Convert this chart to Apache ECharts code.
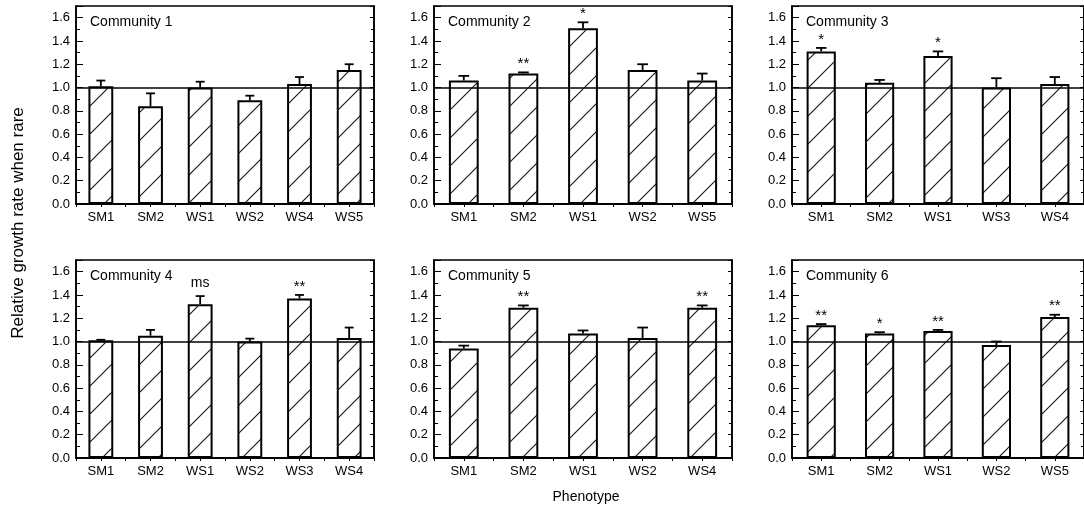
<!DOCTYPE html>
<html>
<head>
<meta charset="utf-8">
<title>Relative growth rate when rare</title>
<script src="https://cdn.jsdelivr.net/npm/echarts@6/dist/echarts.min.js"></script>
<style>
html, body { margin: 0; padding: 0; background: #fff; }
#main { width: 1084px; height: 507px; }
</style>
</head>
<body>
<div id="main"></div>
<script>
// values (mean, upper error, significance mark)
const cats1 = ['SM1', 'SM2', 'WS1', 'WS2', 'WS4', 'WS5']
const mean1 = [1.01, 0.84, 1.00, 0.89, 1.03, 1.15]
const err1 = [0.05, 0.11, 0.05, 0.04, 0.06, 0.05]
const sig1 = ['', '', '', '', '', '']

const cats2 = ['SM1', 'SM2', 'WS1', 'WS2', 'WS5']
const mean2 = [1.06, 1.12, 1.51, 1.15, 1.06]
const err2 = [0.04, 0.01, 0.05, 0.05, 0.06]
const sig2 = ['', '**', '*', '', '']

const cats3 = ['SM1', 'SM2', 'WS1', 'WS3', 'WS4']
const mean3 = [1.31, 1.04, 1.27, 1.00, 1.03]
const err3 = [0.03, 0.025, 0.04, 0.08, 0.06]
const sig3 = ['*', '', '*', '', '']

const cats4 = ['SM1', 'SM2', 'WS1', 'WS2', 'WS3', 'WS4']
const mean4 = [1.01, 1.05, 1.32, 1.00, 1.37, 1.03]
const err4 = [0.005, 0.05, 0.07, 0.025, 0.03, 0.09]
const sig4 = ['', '', 'ms', '', '**', '']

const cats5 = ['SM1', 'SM2', 'WS1', 'WS2', 'WS4']
const mean5 = [0.94, 1.29, 1.07, 1.03, 1.29]
const err5 = [0.025, 0.02, 0.025, 0.09, 0.02]
const sig5 = ['', '**', '', '', '**']

const cats6 = ['SM1', 'SM2', 'WS1', 'WS2', 'WS5']
const mean6 = [1.14, 1.07, 1.09, 0.97, 1.21]
const err6 = [0.01, 0.01, 0.01, 0.03, 0.02]
const sig6 = ['**', '*', '**', '', '**']

const yTicks = [0, 0.2, 0.4, 0.6, 0.8, 1.0, 1.2, 1.4, 1.6]

const panels = [
  { name: 'Community 1', cats: cats1, mean: mean1, err: err1, sig: sig1 },
  { name: 'Community 2', cats: cats2, mean: mean2, err: err2, sig: sig2 },
  { name: 'Community 3', cats: cats3, mean: mean3, err: err3, sig: sig3 },
  { name: 'Community 4', cats: cats4, mean: mean4, err: err4, sig: sig4 },
  { name: 'Community 5', cats: cats5, mean: mean5, err: err5, sig: sig5 },
  { name: 'Community 6', cats: cats6, mean: mean6, err: err6, sig: sig6 },
]

const FONT = '"Liberation Sans", Arial, sans-serif'
const lefts = [76, 434, 792]
const tops = [6, 260]
const W = 298
const H = 198

// diagonal hatch tile
function hatchTile() {
  const s = 28
  const c = document.createElement('canvas')
  c.width = s
  c.height = s
  const g = c.getContext('2d')
  g.fillStyle = '#fff'
  g.fillRect(0, 0, s, s)
  g.strokeStyle = '#111'
  g.lineWidth = 1.1
  for (let k = -1; k <= 1; k++) {
    g.beginPath()
    g.moveTo(-2 + k * s, s + 2)
    g.lineTo(s + 2 + k * s, -2)
    g.stroke()
  }
  return c
}
const hatch = hatchTile()

const chart = echarts.init(document.getElementById('main'), null, { renderer: 'canvas' })

let grid = []
let xAxis = []
let yAxis = []
let series = []
let graphic = []

panels.forEach((p, i) => {
  const left = lefts[i % 3]
  const top = tops[Math.floor(i / 3)]
  grid.push({
    left: left, top: top, width: W, height: H,
    show: true, borderColor: '#000', borderWidth: 1.6, backgroundColor: 'transparent',
  })
  // bottom category axis
  xAxis.push({
    type: 'category', gridIndex: i, data: p.cats, position: 'bottom',
    axisLine: { show: true, lineStyle: { color: '#000', width: 1.6 } },
    axisTick: { show: false },
    axisLabel: { color: '#000', fontSize: 13, fontFamily: FONT, margin: 7, interval: 0 },
    splitLine: { show: false },
  })
  // top axis, just ticks at every half category
  xAxis.push({
    type: 'value', gridIndex: i, position: 'top', min: 0, max: p.cats.length, interval: 0.5,
    axisLine: { show: true, lineStyle: { color: '#000', width: 1.6 } },
    axisTick: { show: true, inside: true, length: 3, lineStyle: { color: '#000', width: 1 } },
    axisLabel: { show: false },
    splitLine: { show: false },
  })
  yAxis.push({
    type: 'value', gridIndex: i, min: 0, max: 1.7, interval: 0.2,
    axisLine: { show: true, lineStyle: { color: '#000', width: 1.6 } },
    axisTick: { show: true, inside: true, length: 7, lineStyle: { color: '#000', width: 1 } },
    minorTick: { show: true, splitNumber: 2, length: 4, lineStyle: { color: '#000', width: 1 } },
    axisLabel: {
      color: '#000', fontSize: 13, fontFamily: FONT, margin: 6, showMaxLabel: false,
      formatter: (v) => yTicks.some((t) => Math.abs(t - v) < 1e-6) ? v.toFixed(1) : '',
    },
    splitLine: { show: false },
  })
  yAxis.push({
    type: 'value', gridIndex: i, position: 'right', min: 0, max: 1.7, interval: 0.2,
    axisLine: { show: true, lineStyle: { color: '#000', width: 1.6 } },
    axisTick: { show: true, inside: true, length: 4, lineStyle: { color: '#000', width: 1 } },
    minorTick: { show: true, splitNumber: 2, length: 3, lineStyle: { color: '#000', width: 1 } },
    axisLabel: { show: false },
    splitLine: { show: false },
  })

  series.push({
    type: 'bar',
    xAxisIndex: 2 * i, yAxisIndex: 2 * i,
    data: p.mean,
    barWidth: '50%',
    z: 2,
    itemStyle: {
      color: { image: hatch, repeat: 'repeat' },
      borderColor: '#000', borderWidth: 2,
    },
    emphasis: { disabled: true },
  })

  const sig = p.sig
  series.push({
    type: 'custom',
    xAxisIndex: 2 * i, yAxisIndex: 2 * i,
    z: 4,
    data: p.mean.map((m, j) => [j, m, m + p.err[j]]),
    renderItem: (params, api) => {
      const base = api.coord([api.value(0), api.value(1)])
      const tip = api.coord([api.value(0), api.value(2)])
      const cw = api.size([1, 0])[0]
      const half = cw * 0.09
      const s = sig[params.dataIndex]
      const children = [
        { type: 'line', shape: { x1: base[0], y1: base[1], x2: tip[0], y2: tip[1] },
          style: { stroke: '#000', lineWidth: 1.8 } },
        { type: 'line', shape: { x1: tip[0] - half, y1: tip[1], x2: tip[0] + half, y2: tip[1] },
          style: { stroke: '#000', lineWidth: 1.8 } },
      ]
      if (s) {
        children.push({
          type: 'text', x: tip[0], y: tip[1] - (s === 'ms' ? 6 : 1),
          style: { text: s, font: (s === 'ms' ? '14px ' : '15px ') + FONT, align: 'center', verticalAlign: 'bottom', fill: '#000' },
        })
      }
      return { type: 'group', children: children }
    },
    markLine: {
      silent: true, symbol: 'none', animation: false,
      label: { show: false },
      lineStyle: { color: '#000', width: 1.7, type: 'solid' },
      data: [{ yAxis: 1 }],
    },
  })

  graphic.push({
    type: 'text', x: left + 14, y: top + 16,
    style: { text: p.name, font: '14px ' + FONT, fill: '#000', verticalAlign: 'middle' },
  })
})

graphic.push({
  type: 'text', x: 18, y: 223, rotation: Math.PI / 2,
  style: { text: 'Relative growth rate when rare', font: '17px ' + FONT, fill: '#000', align: 'center', verticalAlign: 'middle' },
})
graphic.push({
  type: 'text', x: 586, y: 497,
  style: { text: 'Phenotype', font: '14px ' + FONT, fill: '#000', align: 'center', verticalAlign: 'middle' },
})

const option = {
  animation: false,
  backgroundColor: '#fff',
  grid: grid,
  xAxis: xAxis,
  yAxis: yAxis,
  series: series,
  graphic: graphic,
}
chart.setOption(option)
window.addEventListener('resize', () => {
  chart.resize()
})
</script>
</body>
</html>
